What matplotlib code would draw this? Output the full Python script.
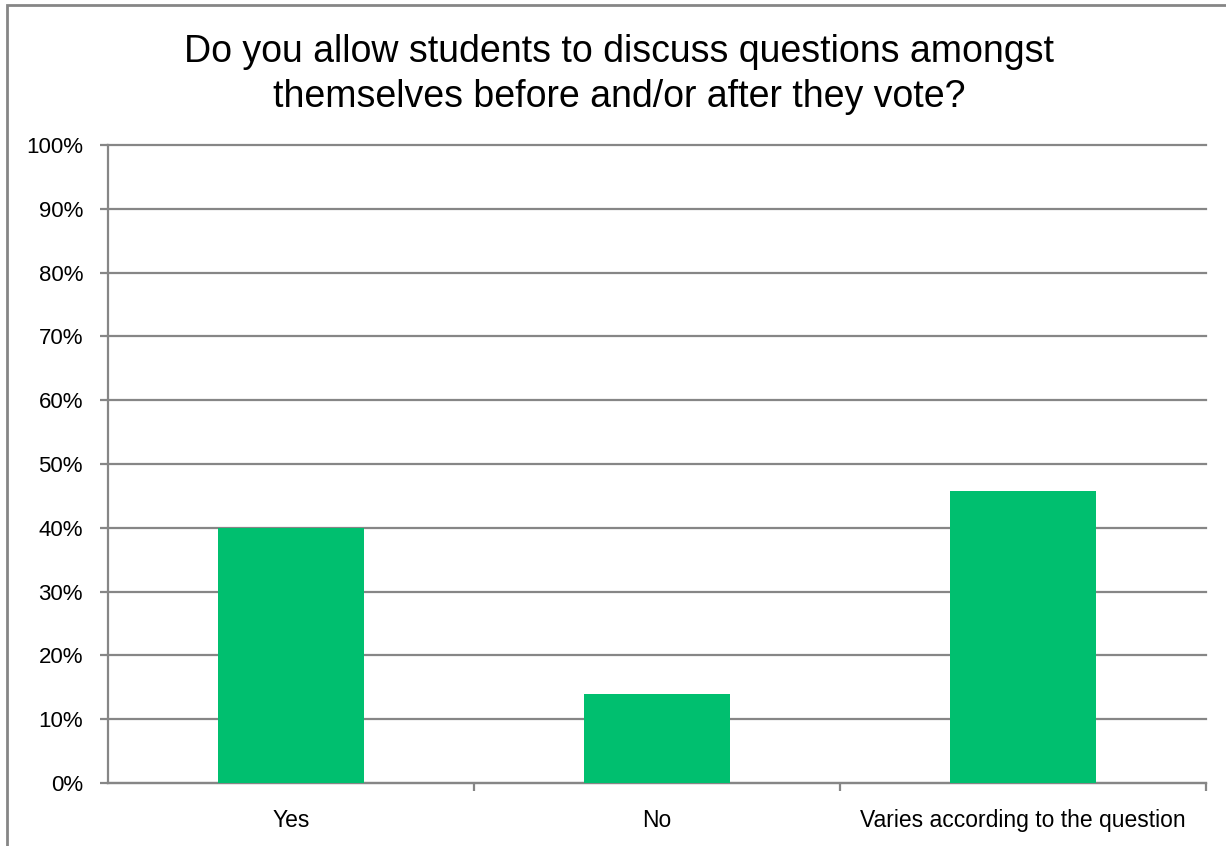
import matplotlib
matplotlib.use("Agg")
import matplotlib.pyplot as plt
from matplotlib.patches import Rectangle

categories = ["Yes", "No", "Varies according to the question"]
values = [40.0, 14.0, 45.8]
yticks = [0, 10, 20, 30, 40, 50, 60, 70, 80, 90, 100]
ytick_labels = ["%d%%" % t for t in yticks]

plt.rcParams['font.family'] = ['Liberation Sans', 'DejaVu Sans']
grey = "#868686"

fig = plt.figure(figsize=(12.26, 8.46), dpi=100)
ax = fig.add_axes([108/1226, 63/846, 1098/1226, 638/846])

# outer chart frame
fig.patches.append(Rectangle((7/1226, -0.1), 1.2, (846-5)/846 + 0.1,
                             transform=fig.transFigure, fill=False,
                             edgecolor=grey, linewidth=2))

x = range(len(categories))
ax.bar(x, values, width=0.4, color="#00BF6F", zorder=3)

ax.set_xlim(-0.5, len(categories) - 0.5)
ax.set_ylim(0, 100)
ax.set_yticks(yticks)
ax.set_yticklabels(ytick_labels, fontsize=16)
ax.yaxis.grid(True, color=grey, linewidth=1.6, zorder=0)
for gl in ax.get_ygridlines():
    gl.set_clip_on(False)
ax.set_xticks(list(x))
ax.set_xticklabels(categories, fontsize=16.5)
ax.tick_params(axis='x', length=0, pad=19)
ax.set_xticks([0.5, 1.5, 2.5], minor=True)
ax.tick_params(axis='x', which='minor', length=6, width=1.6, color=grey)
ax.tick_params(axis='y', length=6, width=1.6, color=grey, pad=12)

for s in ['top', 'right']:
    ax.spines[s].set_visible(False)
for s in ['left', 'bottom']:
    ax.spines[s].set_color(grey)
    ax.spines[s].set_linewidth(1.6)

fig.text(0.505, 0.912, "Do you allow students to discuss questions amongst\nthemselves before and/or after they vote?",
         ha='center', va='center', fontsize=27, linespacing=1.3)

fig.savefig("out.png", dpi=100)
